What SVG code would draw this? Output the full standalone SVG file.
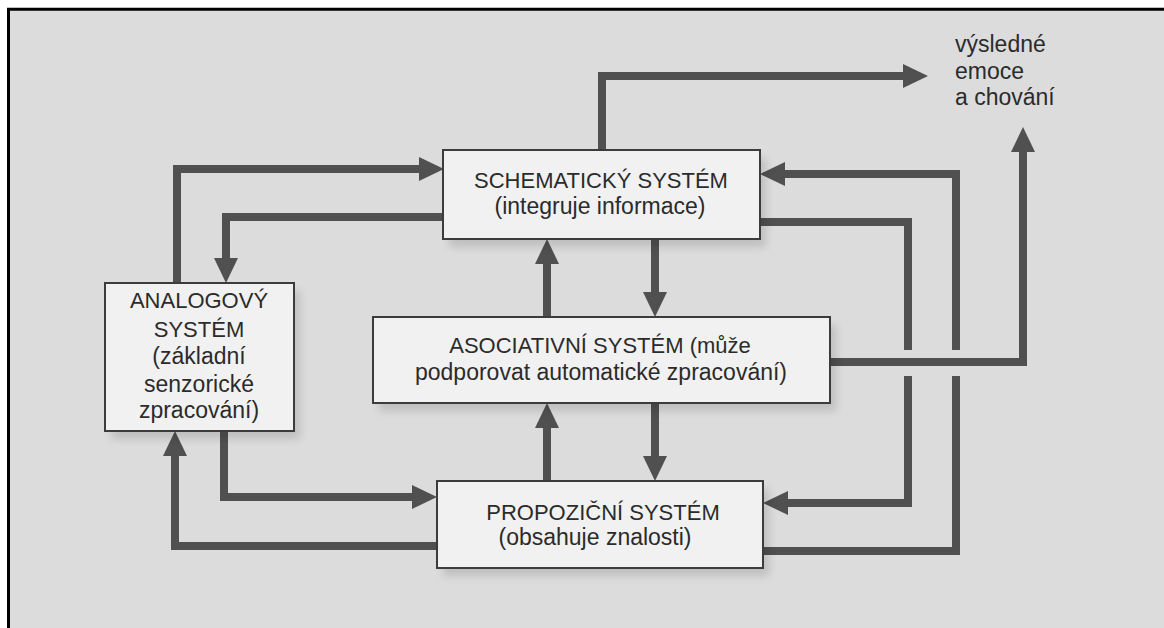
<svg xmlns="http://www.w3.org/2000/svg" width="1164" height="628" viewBox="0 0 1164 628">
  <style>
    .box { fill: #f1f1f1; stroke: #3c3c3c; stroke-width: 2; }
    .shadow { fill: #000; opacity: 0.13; filter: url(#soft); }
    .lbl { font-family: "Liberation Sans", Arial, sans-serif; font-size: 22px; fill: #2b2b2b; text-anchor: middle; }
    .lc { font-size: 23px; }
    .out { font-family: "Liberation Sans", Arial, sans-serif; font-size: 23px; fill: #2b2b2b; }
    .wire { fill: none; stroke: #505050; stroke-width: 8; stroke-linejoin: miter; stroke-linecap: butt; }
    .wire.arrow { marker-end: url(#head); }
  </style>
  <defs>
    <filter id="soft" x="-20%" y="-20%" width="140%" height="140%">
      <feGaussianBlur stdDeviation="4"/>
    </filter>
    <marker id="head" markerUnits="userSpaceOnUse" markerWidth="26" markerHeight="26" refX="1" refY="12" orient="auto">
      <path d="M0,0 L25,12 L0,24 Z" fill="#505050"/>
    </marker>
  </defs>

  <!-- page and frame -->
  <rect x="0" y="0" width="1164" height="628" fill="#ffffff"/>
  <rect x="8" y="9" width="1156" height="619" fill="#dcdcdc"/>
  <path d="M8.5,628 V9.3 H1164" fill="none" stroke="#000" stroke-width="3"/>

  <!-- connectors -->
  <g id="connectors">
    <!-- analogový -> schematický -->
    <path class="wire arrow" d="M177,283 V169 H420"/>
    <!-- schematický -> analogový -->
    <path class="wire arrow" d="M444,217 H226 V259"/>
    <!-- schematický -> výsledné emoce -->
    <path class="wire arrow" d="M602,150 V76 H904"/>
    <!-- asociativní -> výsledné emoce -->
    <path class="wire arrow" d="M830,362 H1023 V151"/>
    <!-- schematický -> propoziční (broken at the crossing) -->
    <path class="wire" d="M760,222 H908 V350"/>
    <path class="wire arrow" d="M908,376 V503 H787"/>
    <!-- propoziční -> schematický (broken at the crossing) -->
    <path class="wire" d="M763,551 H956 V376"/>
    <path class="wire arrow" d="M956,350 V174 H784"/>
    <!-- asociativní <-> schematický -->
    <path class="wire arrow" d="M547,317 V263"/>
    <path class="wire arrow" d="M655,239 V293"/>
    <!-- propoziční <-> asociativní -->
    <path class="wire arrow" d="M547,481 V427"/>
    <path class="wire arrow" d="M655,403 V457"/>
    <!-- analogový <-> propoziční -->
    <path class="wire arrow" d="M224,431 V497 H413"/>
    <path class="wire arrow" d="M437,546 H175 V455"/>
  </g>

  <!-- nodes -->
  <g id="schematicky">
    <rect class="shadow" x="449" y="158" width="317" height="89"/>
    <rect class="box" x="443" y="150" width="317" height="89"/>
    <text class="lbl" x="601" y="188">SCHEMATICKÝ SYSTÉM</text>
    <text class="lbl lc" x="600" y="214">(integruje informace)</text>
  </g>

  <g id="analogovy">
    <rect class="shadow" x="111" y="291" width="189" height="148"/>
    <rect class="box" x="105" y="283" width="189" height="148"/>
    <text class="lbl" x="199" y="308">ANALOGOVÝ</text>
    <text class="lbl" x="199" y="337">SYSTÉM</text>
    <text class="lbl lc" x="199" y="364">(základní</text>
    <text class="lbl lc" x="199" y="392">senzorické</text>
    <text class="lbl lc" x="199" y="418">zpracování)</text>
  </g>

  <g id="asociativni">
    <rect class="shadow" x="379" y="325" width="457" height="86"/>
    <rect class="box" x="373" y="317" width="457" height="86"/>
    <text class="lbl" x="600" y="353">ASOCIATIVNÍ SYSTÉM (může</text>
    <text class="lbl lc" x="601" y="380">podporovat automatické zpracování)</text>
  </g>

  <g id="propozicni">
    <rect class="shadow" x="443" y="489" width="326" height="87"/>
    <rect class="box" x="437" y="481" width="326" height="87"/>
    <text class="lbl" x="603" y="520">PROPOZIČNÍ SYSTÉM</text>
    <text class="lbl lc" x="595" y="545">(obsahuje znalosti)</text>
  </g>

  <g id="vysledne">
    <text class="out" x="955" y="52">výsledné</text>
    <text class="out" x="955" y="79">emoce</text>
    <text class="out" x="955" y="105">a chování</text>
  </g>
</svg>
